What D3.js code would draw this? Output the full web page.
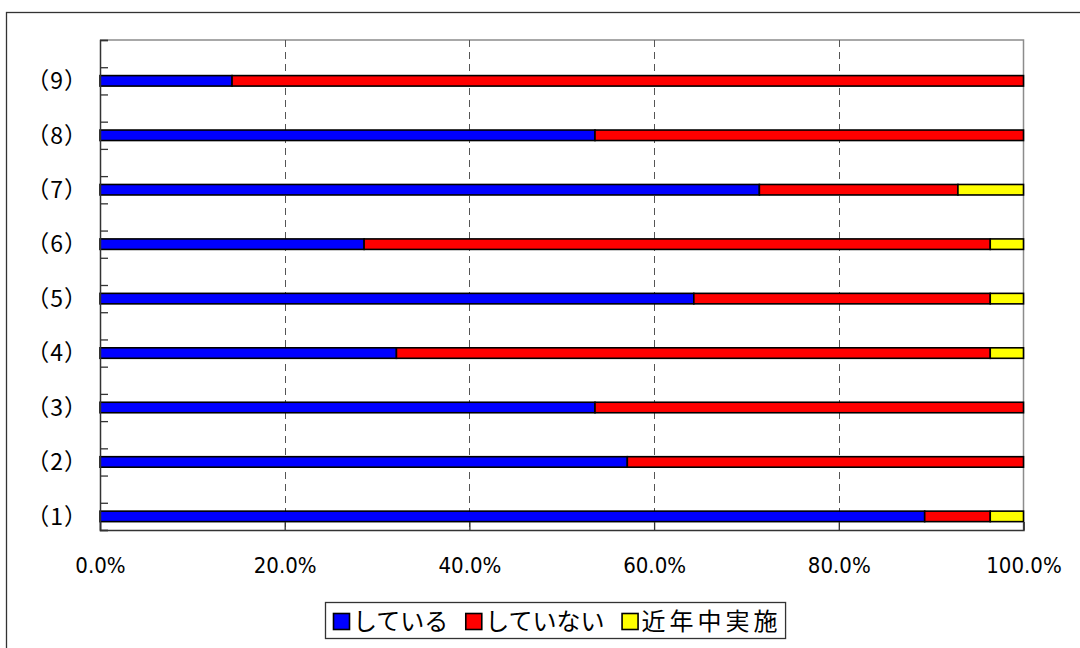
<!DOCTYPE html>
<html>
<head>
<meta charset="utf-8">
<script src="https://cdn.jsdelivr.net/npm/d3@7"></script>
<style>
  body { margin: 0; background: #fff; }
  svg { display: block; }
</style>
</head>
<body>
<div id="chart"></div>
<script>
//-------------------------------------
// data
//-------------------------------------
var categories = ["（9）", "（8）", "（7）", "（6）", "（5）", "（4）", "（3）", "（2）", "（1）"];
var seriesNames = ["している", "していない", "近年中実施"];
var doing    = [14.3, 53.6, 71.4, 28.6, 64.3, 32.1, 53.6, 57.1, 89.3];
var notDoing = [85.7, 46.4, 21.5, 67.8, 32.1, 64.3, 46.4, 42.9,  7.1];
var soon     = [ 0.0,  0.0,  7.1,  3.6,  3.6,  3.6,  0.0,  0.0,  3.6];
var xTicks = [0, 20, 40, 60, 80, 100];

var colors = ["#0000ff", "#ff0000", "#ffff00"];

//-------------------------------------
// field
//-------------------------------------
var width = 1080;
var height = 648;
var plot = { left: 100, top: 40, right: 1023.5, bottom: 530 };

var svg = d3.select("#chart")
	.append("svg")
	.attr("width", width)
	.attr("height", height);

// outer frame (runs off the right / bottom edge)
svg.append("rect")
	.attr("x", 6.5)
	.attr("y", 12.5)
	.attr("width", 1200)
	.attr("height", 800)
	.style("fill", "#fff")
	.style("stroke", "#333")
	.style("stroke-width", 1.3);

var x = d3.scaleLinear()
	.domain([0, 100])
	.range([plot.left, plot.right]);

var y = d3.scaleBand()
	.domain(categories)
	.range([plot.top, plot.bottom]);

// half-band positions for the small ticks on the left axis
var slots = d3.scaleLinear()
	.domain([0, categories.length * 2])
	.range([plot.top, plot.bottom]);

// stacked rows
var rows = categories.map(function(c, i) {
	return { cat: c, vals: [doing[i], notDoing[i], soon[i]] };
});
var stacked = d3.stack()
	.keys([0, 1, 2])
	.value(function(d, k) { return d.vals[k]; })(rows);

//-------------------------------------
// plot area + grid
//-------------------------------------
svg.append("path")
	.attr("d", "M" + plot.left + "," + plot.top + "H" + plot.right + "V" + plot.bottom)
	.style("fill", "none")
	.style("stroke", "#8c8c8c")
	.style("stroke-width", 1.5);

svg.append("g")
	.selectAll("line")
	.data(xTicks.slice(1, -1))
	.enter()
	.append("line")
	.attr("x1", function(d) { return Math.round(x(d)) + 0.5; })
	.attr("x2", function(d) { return Math.round(x(d)) + 0.5; })
	.attr("y1", plot.top)
	.attr("y2", plot.bottom)
	.style("stroke", "#555")
	.style("stroke-width", 1)
	.style("stroke-dasharray", "7,5");

//-------------------------------------
// bars
//-------------------------------------
var barH = 10.5;

svg.append("g")
	.selectAll("g")
	.data(stacked)
	.enter()
	.append("g")
	.style("fill", function(d, i) { return colors[i]; })
	.selectAll("rect")
	.data(function(d) { return d.filter(function(s) { return s[1] - s[0] > 0; }); })
	.enter()
	.append("rect")
	.attr("x", function(d) { return x(d[0]); })
	.attr("width", function(d) { return x(d[1]) - x(d[0]); })
	.attr("y", function(d) { return y(d.data.cat) + y.bandwidth() * 0.75 - barH / 2; })
	.attr("height", barH)
	.style("stroke", "#000")
	.style("stroke-width", 1.6);

//-------------------------------------
// axes
//-------------------------------------
var yAxis = svg.append("g")
	.attr("transform", "translate(" + plot.left + ",0)")
	.call(d3.axisLeft(slots)
		.tickValues(d3.range(categories.length * 2 + 1))
		.tickSize(-8)
		.tickFormat(""));
yAxis.select(".domain").style("stroke", "#333").style("stroke-width", 1.5);
yAxis.selectAll(".tick line").style("stroke", "#333").style("stroke-width", 1.3);

var xAxis = svg.append("g")
	.attr("transform", "translate(0," + plot.bottom + ")")
	.call(d3.axisBottom(x)
		.tickValues(xTicks)
		.tickSize(-8)
		.tickPadding(27)
		.tickFormat(function(d) { return d.toFixed(1) + "%"; }));
xAxis.select(".domain").style("stroke", "#333").style("stroke-width", 1.5);
xAxis.selectAll(".tick line").style("stroke", "#333").style("stroke-width", 1.3);
xAxis.selectAll(".tick text")
	.style("font-family", "'Liberation Sans Narrow', 'DejaVu Sans Condensed', 'Liberation Sans', sans-serif")
	.style("font-size", "22px")
	.style("fill", "#000");

// category labels
svg.append("g")
	.selectAll("text")
	.data(categories)
	.enter()
	.append("text")
	.attr("x", 88)
	.attr("y", function(d) { return y(d) + y.bandwidth() * 0.75; })
	.attr("dy", "0.36em")
	.attr("text-anchor", "end")
	.style("font-family", "'Noto Sans CJK JP', sans-serif")
	.style("font-size", "23px")
	.style("letter-spacing", "1px")
	.style("fill", "#000")
	.text(function(d) { return d; });

//-------------------------------------
// legend
//-------------------------------------
var legend = svg.append("g");
var legendBox = legend.append("rect")
	.attr("x", 325.5)
	.attr("y", 602.5)
	.attr("height", 36)
	.style("fill", "#fff")
	.style("stroke", "#333")
	.style("stroke-width", 1.3);

var lx = 333;
seriesNames.forEach(function(name, i) {
	legend.append("rect")
		.attr("x", lx + 0.5)
		.attr("y", 613.5)
		.attr("width", 16)
		.attr("height", 16)
		.style("fill", colors[i])
		.style("stroke", "#000")
		.style("stroke-width", 1.6);
	var t = legend.append("text")
		.attr("x", lx + 20)
		.attr("y", 621)
		.attr("dy", "0.36em")
		.style("font-family", "'Noto Sans CJK JP', sans-serif")
		.style("font-size", "24px")
		.style("letter-spacing", i == 2 ? "4px" : "0px")
		.style("fill", "#000")
		.text(name);
	lx = lx + 20 + t.node().getComputedTextLength() + 17;
});
legendBox.attr("width", lx - 17 + 4 - 325.5);
</script>
</body>
</html>
